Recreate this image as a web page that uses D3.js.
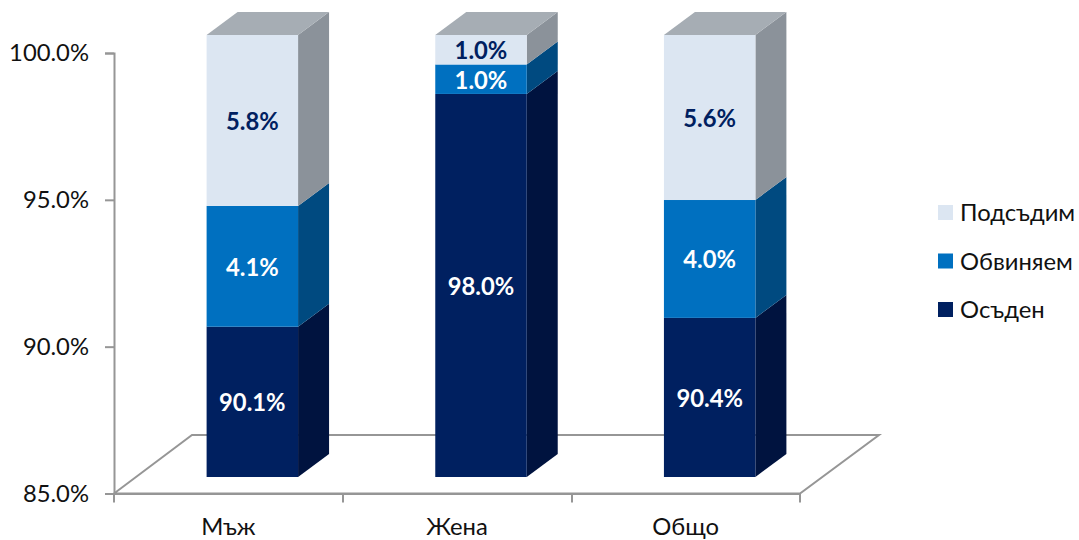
<!DOCTYPE html>
<html>
<head>
<meta charset="utf-8">
<script src="https://cdn.jsdelivr.net/npm/d3@7"></script>
<style>
  html, body { margin: 0; padding: 0; background: #fff; }
  svg { display: block; }
  text { font-family: Lato, "Open Sans", sans-serif; }
</style>
</head>
<body>
<div id="chart"></div>
<script>
const categories = ["Мъж", "Жена", "Общо"];
const seriesNames = ["Осъден", "Обвиняем", "Подсъдим"];
const convicted = [90.1, 98.0, 90.4];
const accused = [4.1, 1.0, 4.0];
const defendant = [5.8, 1.0, 5.6];
const yTicks = [85, 90, 95, 100];

const frontColors = ["#002060", "#0070c0", "#dce6f2"];
const sideColors = ["#00133f", "#004a80", "#8b929a"];
const topColor = "#a6adb4";
const labelColors = ["#ffffff", "#ffffff", "#002060"];
const axisColor = "#969696";
const textColor = "#111111";

const width = 1079;
const height = 540;
const depthX = 31;
const depthY = 23;
const fontSize = 23.8;

const svg = d3.select("#chart").append("svg").attr("width", width).attr("height", height);

const x = d3.scaleBand().domain(categories).range([114, 800]);
const yAxisScale = d3.scaleLinear().domain([85, 100]).range([493.5, 53]);
const yBar = d3.scaleLinear().domain([85, 100]).range([477, 35]);

const barWidth = x.bandwidth() * 0.4;
const barLeft = (c) => x(c) + x.bandwidth() / 2 + 24 - barWidth / 2;

// floor of the 3d box
const floor = [[114, 493.5], [192, 435], [879, 435], [800, 493.5]];
svg.append("polygon")
  .attr("points", floor.join(" "))
  .attr("fill", "#fff")
  .attr("stroke", axisColor)
  .attr("stroke-width", 2);

const stacked = d3.stack().keys([0, 1, 2]).value((d, k) => d[k])(
  categories.map((c, i) => [convicted[i], accused[i], defendant[i]])
);

const bars = svg.append("g");
stacked.forEach((layer, s) => {
  layer.forEach((d, i) => {
    const c = categories[i];
    const x0 = barLeft(c);
    const x1 = x0 + barWidth;
    const yTop = yBar(d[1]);
    const yBottom = yBar(Math.max(d[0], 85));

    bars.append("polygon")
      .attr("points", [[x1, yTop], [x1 + depthX, yTop - depthY], [x1 + depthX, yBottom - depthY], [x1, yBottom]].join(" "))
      .attr("fill", sideColors[s]);

    bars.append("rect")
      .attr("x", x0)
      .attr("y", yTop)
      .attr("width", barWidth)
      .attr("height", yBottom - yTop)
      .attr("fill", frontColors[s]);

    if (s === 2) {
      bars.append("polygon")
        .attr("points", [[x0, yTop], [x0 + depthX, yTop - depthY], [x1 + depthX, yTop - depthY], [x1, yTop]].join(" "))
        .attr("fill", topColor);
    }

    bars.append("text")
      .attr("x", (x0 + x1) / 2)
      .attr("y", (yTop + yBottom) / 2 + 9.5)
      .attr("text-anchor", "middle")
      .attr("font-size", fontSize)
      .attr("font-weight", 700)
      .attr("fill", labelColors[s])
      .text(d3.format(".1f")(d[1] - d[0]) + "%");
  });
});

// axes
const gy = svg.append("g")
  .attr("transform", "translate(114,0)")
  .call(d3.axisLeft(yAxisScale).tickValues(yTicks).tickSize(9).tickPadding(16).tickFormat((d) => d3.format(".1f")(d) + "%"));

const gx = svg.append("g")
  .attr("transform", "translate(0,493.5)")
  .call(d3.axisBottom(x).tickSize(0).tickPadding(25));

gx.selectAll(".tickmark")
  .data([114, 343, 572, 800])
  .enter()
  .append("line")
  .attr("x1", (d) => d)
  .attr("x2", (d) => d)
  .attr("y1", 0)
  .attr("y2", 9)
  .attr("stroke", axisColor)
  .attr("stroke-width", 2);

[gy, gx].forEach((g) => {
  g.selectAll(".domain").attr("stroke", axisColor).attr("stroke-width", 2);
  g.selectAll("line").attr("stroke", axisColor).attr("stroke-width", 2);
  g.selectAll("text").attr("font-size", fontSize).attr("fill", textColor).style("font-family", "Lato, 'Open Sans', sans-serif");
});

// legend
const legendY = d3.scalePoint().domain(seriesNames).range([309.5, 212.5]);
const legend = svg.append("g");
seriesNames.forEach((name, s) => {
  legend.append("rect")
    .attr("x", 938)
    .attr("y", legendY(name) - 7.5)
    .attr("width", 15)
    .attr("height", 15)
    .attr("fill", frontColors[s]);
  legend.append("text")
    .attr("x", 960)
    .attr("y", legendY(name) + 8.5)
    .attr("font-size", fontSize)
    .attr("fill", textColor)
    .text(name);
});
</script>
</body>
</html>
